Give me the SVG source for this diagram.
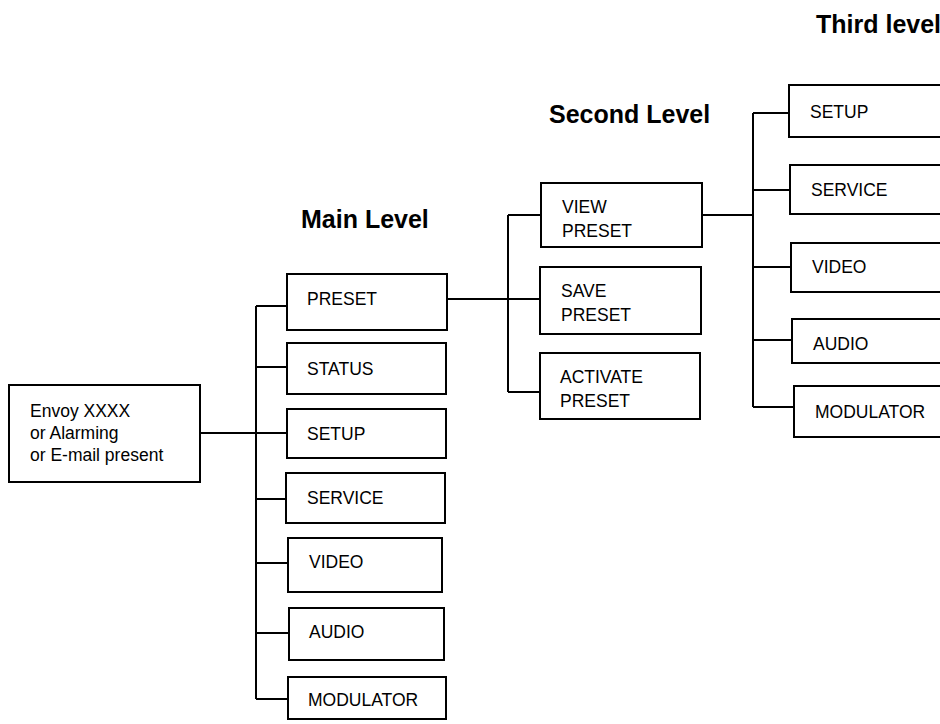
<svg xmlns="http://www.w3.org/2000/svg" width="940" height="724" viewBox="0 0 940 724">
<style>
.box{fill:#fff;stroke:#000;stroke-width:2}
.t{font-family:"Liberation Sans",Arial,sans-serif;font-size:17.5px;fill:#000}
.h{font-family:"Liberation Sans",Arial,sans-serif;font-size:25px;font-weight:bold;fill:#000}
.c{fill:none;stroke:#000;stroke-width:2}
</style>
<rect width="940" height="724" fill="#fff"/>
<text class="h" x="301" y="228">Main Level</text>
<text class="h" x="549" y="123">Second Level</text>
<text class="h" x="816" y="33">Third level</text>
<g id="connectors">
<path class="c" d="M200,433 H288"/>
<path class="c" d="M256,306 V699"/>
<path class="c" d="M256,306 H288 M256,367 H288 M256,499 H287 M256,563 H289 M256,633 H290 M256,699 H289"/>
<path class="c" d="M447,299 H541"/>
<path class="c" d="M508,215 V392"/>
<path class="c" d="M508,215 H542 M508,392 H541"/>
<path class="c" d="M702,215 H753"/>
<path class="c" d="M753,113 V407"/>
<path class="c" d="M753,113 H790 M753,190 H791 M753,267 H792 M753,340 H793 M753,407 H795"/>
</g>
<g id="envoy"><rect class="box" x="9" y="385" width="191" height="97"/>
<text class="t" x="30" y="417">Envoy XXXX</text><text class="t" x="30" y="439">or Alarming</text><text class="t" x="30" y="461">or E-mail present</text></g>
<g id="m-preset"><rect class="box" x="287" y="274" width="160" height="56"/><text class="t" x="307" y="305">PRESET</text></g>
<g id="m-status"><rect class="box" x="287" y="343" width="159" height="51"/><text class="t" x="307" y="375">STATUS</text></g>
<g id="m-setup"><rect class="box" x="287" y="409" width="159" height="49"/><text class="t" x="307" y="440">SETUP</text></g>
<g id="m-service"><rect class="box" x="286" y="473" width="159" height="50"/><text class="t" x="307" y="504">SERVICE</text></g>
<g id="m-video"><rect class="box" x="288" y="538" width="154" height="54"/><text class="t" x="309" y="568">VIDEO</text></g>
<g id="m-audio"><rect class="box" x="289" y="608" width="155" height="52"/><text class="t" x="309" y="638">AUDIO</text></g>
<g id="m-modulator"><rect class="box" x="288" y="677" width="158" height="42"/><text class="t" x="308" y="706">MODULATOR</text></g>
<g id="s-view"><rect class="box" x="541" y="183" width="161" height="64"/><text class="t" x="562" y="213">VIEW</text><text class="t" x="562" y="237">PRESET</text></g>
<g id="s-save"><rect class="box" x="540" y="267" width="161" height="67"/><text class="t" x="561" y="297">SAVE</text><text class="t" x="561" y="321">PRESET</text></g>
<g id="s-activate"><rect class="box" x="540" y="353" width="160" height="66"/><text class="t" x="560" y="383">ACTIVATE</text><text class="t" x="560" y="407">PRESET</text></g>
<g id="t-setup"><rect class="box" x="789" y="85" width="170" height="52"/><text class="t" x="810" y="118">SETUP</text></g>
<g id="t-service"><rect class="box" x="790" y="165" width="170" height="49"/><text class="t" x="811" y="196">SERVICE</text></g>
<g id="t-video"><rect class="box" x="791" y="243" width="170" height="49"/><text class="t" x="812" y="273">VIDEO</text></g>
<g id="t-audio"><rect class="box" x="792" y="319" width="170" height="44"/><text class="t" x="813" y="350">AUDIO</text></g>
<g id="t-modulator"><rect class="box" x="794" y="386" width="170" height="51"/><text class="t" x="815" y="418">MODULATOR</text></g>
</svg>
